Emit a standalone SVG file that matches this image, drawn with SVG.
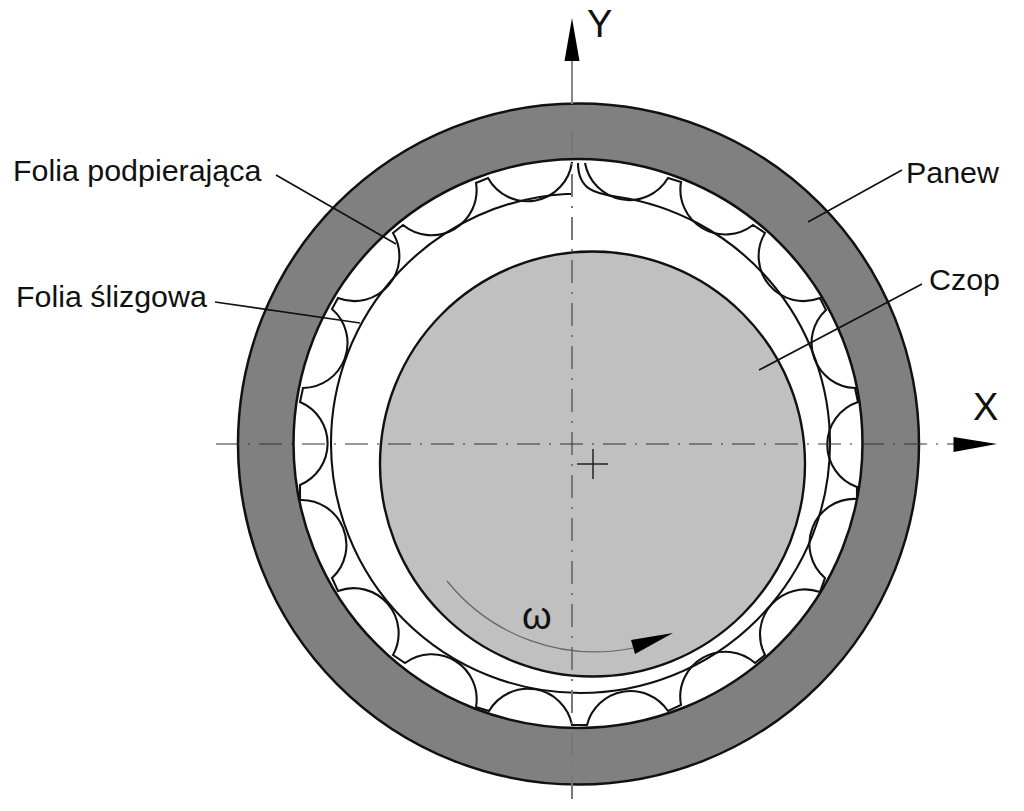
<svg xmlns="http://www.w3.org/2000/svg" width="1024" height="811" viewBox="0 0 1024 811">
<style>
.f{fill:none;stroke:#111;stroke-width:2.1}
.l{fill:none;stroke:#111;stroke-width:1.7}
.t{font-family:"Liberation Sans",Arial,sans-serif;font-size:30.4px;fill:#111}
.a{font-family:"Liberation Sans",Arial,sans-serif;font-size:38px;fill:#111}
.h{fill:#000}
</style>
<rect width="1024" height="811" fill="#fff"/>
<g id="panew">
<circle cx="578.5" cy="444" r="340.5" fill="#808080" stroke="#111" stroke-width="2.5"/>
<circle cx="578" cy="443.5" r="284.5" fill="#fff" stroke="#111" stroke-width="2.5"/>
<text class="t" x="906" y="183">Panew</text>
</g>
<g id="czop">
<circle cx="592.5" cy="464" r="212.5" fill="#c0c0c0" stroke="#111" stroke-width="2.4"/>
<path d="M577 464H608M593 449V479" fill="none" stroke="#222" stroke-width="1.5"/>
<text class="t" x="929" y="290">Czop</text>
</g>
<g id="folia-slizgowa">
<path class="f" d="M573 194H566A249.5 249.5 0 0 0 331 443.5A249.5 249.5 0 0 0 580.5 693A249.5 249.5 0 0 0 830 443.5A249.5 249.5 0 0 0 617 196.7C596 194 578 190 578 163"/>
<text class="t" x="16" y="307">Folia ślizgowa</text>
</g>
<g id="folia-podpierajaca">
<path class="f" d="M585 163A45 45 0 0 0 668 178L681 182A45 45 0 0 0 753 225L765 233A45 45 0 0 0 820 298L826 310A45 45 0 0 0 855 388L858 402A45 45 0 0 0 857 487L857 499A45 45 0 0 0 825 578L820 592A45 45 0 0 0 765 655L755 663A45 45 0 0 0 681 705L668 711A45 45 0 0 0 587 725L572 725A45 45 0 0 0 489 711L476 707A45 45 0 0 0 405 663L393 655A45 45 0 0 0 338 591L332 578A45 45 0 0 0 300 500L300 485A45 45 0 0 0 300 402L303 388A45 45 0 0 0 332 309L338 298A45 45 0 0 0 393 233L403 225A45 45 0 0 0 476 183L488 178A45 45 0 0 0 572 162"/>
<text class="t" x="13" y="181">Folia podpierająca</text>
</g>
<g id="axes">
<path d="M572 61V104" fill="none" stroke="#888" stroke-width="2"/>
<path d="M572 131V803" fill="none" stroke="#777" stroke-width="2" stroke-dasharray="23 9 2 9"/>
<path d="M216 444H955" fill="none" stroke="#333" stroke-width="1.2" stroke-dasharray="23 9 2 9"/>
<polygon class="h" points="572,18 579.5,61 564.5,61"/>
<polygon class="h" points="997,444 953.5,437 953.5,452"/>
<text class="a" x="587" y="37">Y</text>
<text class="a" x="973" y="420">X</text>
</g>
<g id="omega">
<path d="M447 581A190 190 0 0 0 633 648" fill="none" stroke="#666" stroke-width="1.2"/>
<polygon class="h" points="673,633 631,640 635,654"/>
<text class="a" x="522" y="629">ω</text>
</g>
<g id="connectors">
<path class="l" d="M276 175L396 244"/>
<path class="l" d="M215 302L360 323"/>
<path class="l" d="M902 170L808 222"/>
<path class="l" d="M922 284L759 370"/>
</g>
</svg>
